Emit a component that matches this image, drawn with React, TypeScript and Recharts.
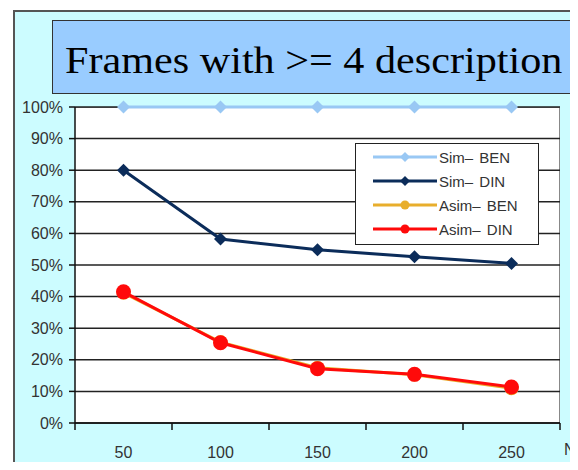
import React from 'react';
import { LineChart, Line, XAxis, YAxis, CartesianGrid } from 'recharts';

const CATEGORIES = ['50', '100', '150', '200', '250'];
const SIM_BEN = [100, 100, 100, 100, 100];
const SIM_DIN = [80, 58.2, 54.8, 52.6, 50.5];
const ASIM_BEN = [41.2, 25.6, 17.5, 15.3, 11.0];
const ASIM_DIN = [41.5, 25.4, 17.2, 15.4, 11.4];
const Y_TICKS = [0, 10, 20, 30, 40, 50, 60, 70, 80, 90, 100];

const SERIES = [
  { key: 'simBen', name: 'Sim– BEN', color: '#99c8f4', shape: 'diamond', size: 6.5 },
  { key: 'simDin', name: 'Sim– DIN', color: '#0b2c5a', shape: 'diamond', size: 6.5 },
  { key: 'asimBen', name: 'Asim– BEN', color: '#e8ae2c', shape: 'circle', size: 7 },
  { key: 'asimDin', name: 'Asim– DIN', color: '#ff0a0a', shape: 'circle', size: 7.5 },
] as const;

const data = CATEGORIES.map((c, i) => ({
  n: c,
  simBen: SIM_BEN[i],
  simDin: SIM_DIN[i],
  asimBen: ASIM_BEN[i],
  asimDin: ASIM_DIN[i],
}));

const W = 578;
const H = 470;
const MARGIN = { top: 107, right: 18, bottom: 17, left: 15 };
const Y_AXIS_W = 60;
const X_AXIS_H = 30;
const PLOT_LEFT = MARGIN.left + Y_AXIS_W;
const PLOT_W = W - PLOT_LEFT - MARGIN.right;
const PLOT_H = H - MARGIN.top - MARGIN.bottom - X_AXIS_H;
const BAND = PLOT_W / CATEGORIES.length;
const FONT = '"Liberation Sans", Arial, sans-serif';

function Marker({ cx, cy, shape, size, color }: any) {
  if (cx == null || cy == null) return null;
  if (shape === 'circle') return <circle cx={cx} cy={cy} r={size} fill={color} />;
  const s = size;
  return <polygon points={`${cx},${cy - s} ${cx + s},${cy} ${cx},${cy + s} ${cx - s},${cy}`} fill={color} />;
}

// category labels sit mid-band, tick marks go on the band edges
function XTick({ x, payload, index }: any) {
  const last = index === CATEGORIES.length - 1;
  const top = MARGIN.top + PLOT_H;
  return (
    <g>
      <line x1={x - BAND / 2} x2={x - BAND / 2} y1={top} y2={top + 7} stroke="#111" strokeWidth={1.5} />
      {last && <line x1={x + BAND / 2} x2={x + BAND / 2} y1={top} y2={top + 7} stroke="#111" strokeWidth={1.5} />}
      <text x={x} y={top + 35} textAnchor="middle" fontSize={16} fill="#333" fontFamily={FONT}>
        {payload.value}
      </text>
    </g>
  );
}

function LegendBox() {
  return (
    <div
      style={{
        position: 'absolute', left: 355, top: 143,
        background: '#fff',
        border: '1.5px solid #222',
        width: 184,
        height: 102,
        boxSizing: 'border-box',
        padding: '1px 0 0 16px',
        fontFamily: FONT,
        fontSize: 15,
        color: '#333',
      }}
    >
      {SERIES.map(s => (
        <div key={s.key} style={{ display: 'flex', alignItems: 'center', height: 24 }}>
          <svg width={66} height={16} style={{ display: 'block' }}>
            <line x1={1} x2={65} y1={8} y2={8} stroke={s.color} strokeWidth={3} />
            <Marker cx={33} cy={8} shape={s.shape} size={s.shape === 'circle' ? 4.5 : 5} color={s.color} />
          </svg>
          <span style={{ marginLeft: 1, wordSpacing: 2 }}>{s.name}</span>
        </div>
      ))}
    </div>
  );
}

export default function App() {
  return (
    <div style={{ position: 'relative', width: W, height: H, margin: -8, overflow: 'hidden', background: '#fff' }}>
      {/* cyan slide panel */}
      <div
        style={{
          position: 'absolute', left: 13, top: 10, width: W, height: H,
          background: '#ccfcff', borderLeft: '2px solid #555', borderTop: '2px solid #555',
        }}
      />
      {/* white plot backdrop */}
      <div
        style={{
          position: 'absolute', left: PLOT_LEFT, top: MARGIN.top, width: PLOT_W, height: PLOT_H,
          background: '#fff', borderTop: '1.5px solid #888', borderRight: '1.5px solid #888', boxSizing: 'border-box',
        }}
      />
      {/* title */}
      <div
        style={{
          position: 'absolute', left: 52, top: 20, width: W, height: 74, boxSizing: 'border-box',
          background: '#99ccff', border: '1.5px solid #333',
        }}
      >
        <div
          style={{
            position: 'absolute', left: 12, top: 3,
            fontFamily: '"Liberation Serif", "Times New Roman", serif', fontSize: 37, lineHeight: '74px',
            color: '#000', whiteSpace: 'nowrap', transform: 'scaleX(1.14)', transformOrigin: 'left center',
          }}
        >
          Frames with &gt;= 4 description
        </div>
      </div>
      <div style={{ position: 'absolute', left: 564, top: 441, fontFamily: FONT, fontSize: 16, color: '#333' }}>N</div>
      <div style={{ position: 'absolute', left: 0, top: 0 }}>
        <LineChart width={W} height={H} data={data} margin={MARGIN}>
          <CartesianGrid horizontal vertical={false} stroke="#222" strokeWidth={1.5} />
          <XAxis
            dataKey="n"
            height={X_AXIS_H}
            padding={{ left: BAND / 2, right: BAND / 2 }}
            axisLine={{ stroke: '#111', strokeWidth: 1.5 }}
            tickLine={false}
            tick={<XTick />}
            interval={0}
          />
          <YAxis
            width={Y_AXIS_W}
            domain={[0, 100]}
            ticks={Y_TICKS}
            interval={0}
            tickFormatter={(v: number) => `${v}%`}
            axisLine={{ stroke: '#111', strokeWidth: 1.5 }}
            tickLine={{ stroke: '#111', strokeWidth: 1.5 }}
            tickSize={6}
            tickMargin={6}
            tick={{ fontSize: 16, fill: '#333', fontFamily: FONT }}
          />
          {SERIES.map(s => (
            <Line
              key={s.key}
              dataKey={s.key}
              name={s.name}
              stroke={s.color}
              strokeWidth={3}
              isAnimationActive={false}
              dot={(p: any) => (
                <Marker key={`${s.key}-${p.index}`} cx={p.cx} cy={p.cy} shape={s.shape} size={s.size} color={s.color} />
              )}
              activeDot={false}
            />
          ))}
        </LineChart>
      </div>
      <LegendBox />
    </div>
  );
}
